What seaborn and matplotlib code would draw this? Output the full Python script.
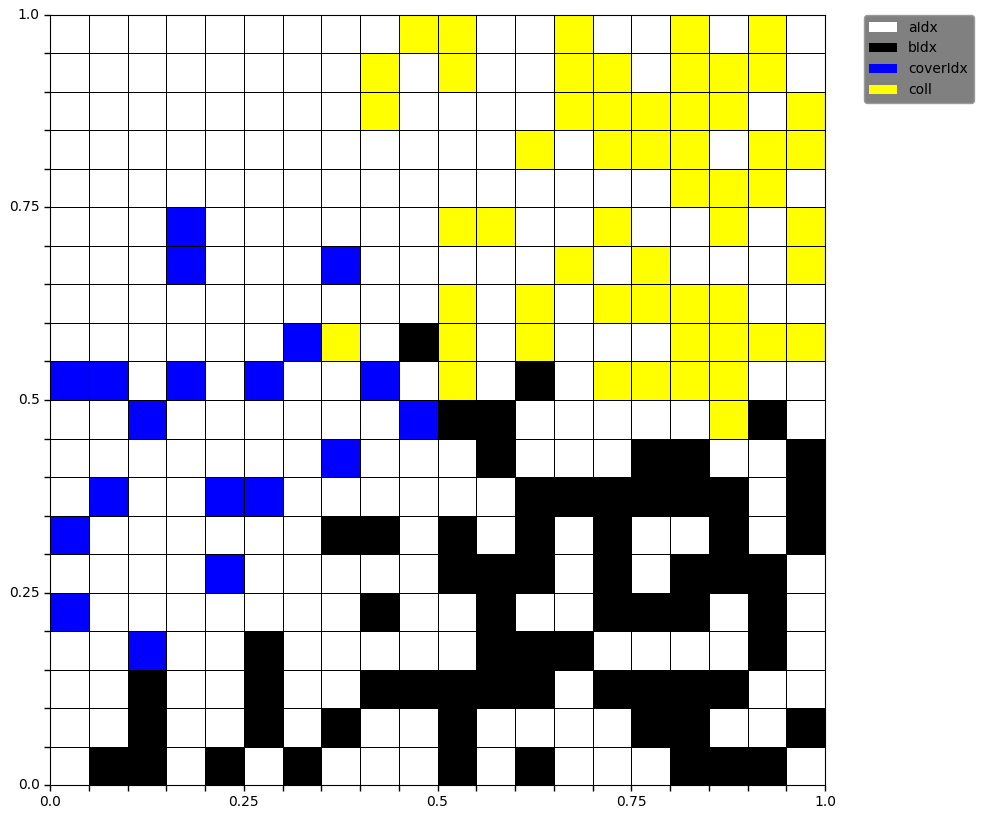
import matplotlib
matplotlib.use("Agg")
import matplotlib.pyplot as plt
from matplotlib.colors import ListedColormap
from matplotlib.patches import Patch
import numpy as np
import pandas as pd
import seaborn as sns

categories = ["aIdx", "bIdx", "coverIdx", "coll"]
colors = ["white", "black", "blue", "yellow"]

# grid rows from top (y=1.0) to bottom (y=0.0); digit = category index
grid_rows = [
    "00000000033003003030",
    "00000000303003303330",
    "00000000300003333303",
    "00000000000030333033",
    "00000000000000003330",
    "00020000003300300303",
    "00020002000003030003",
    "00000000003030333300",
    "00000023013030003333",
    "22020200203010333300",
    "00200000021100000310",
    "00000002000100011001",
    "02002200000011111101",
    "20000001101010100101",
    "00002000001110101110",
    "20000000100100111010",
    "00200100000111000010",
    "00100100111110111100",
    "00100101001000011001",
    "01101010001010001110",
]

tick_values = [0.0, 0.25, 0.5, 0.75, 1.0]
tick_labels = ["0.0", "0.25", "0.5", "0.75", "1.0"]

data = pd.DataFrame([[int(c) for c in r] for r in grid_rows])
n = data.shape[0]

fig = plt.figure(figsize=(9.83, 8.19), dpi=100)
ax = fig.add_axes([0.0509, 0.0415, 0.7884, 0.9402])

sns.heatmap(data, cmap=ListedColormap(colors), vmin=-0.5, vmax=3.5,
            cbar=False, linewidths=0.7, linecolor="black", ax=ax)

pos = np.arange(n + 1)
xl = [""] * (n + 1)
yl = [""] * (n + 1)
for v, lab in zip(tick_values, tick_labels):
    i = int(round(v * n))
    xl[i] = lab
    yl[n - i] = lab
ax.set_xticks(pos)
ax.set_xticklabels(xl, rotation=0)
ax.set_yticks(pos)
ax.set_yticklabels(yl, rotation=0)
ax.tick_params(length=4, width=1, labelsize=10)
ax.set_xlabel("")
ax.set_ylabel("")
for s in ax.spines.values():
    s.set_visible(True)
    s.set_color("black")
    s.set_linewidth(0.8)

handles = [Patch(facecolor=c, edgecolor="none", label=l) for c, l in zip(colors, categories)]
leg = ax.legend(handles=handles, bbox_to_anchor=(1.05, 1), loc="upper left",
                borderaxespad=0, facecolor="gray", framealpha=1, edgecolor="#9a9a9a")

fig.savefig("out.png", dpi=100)
